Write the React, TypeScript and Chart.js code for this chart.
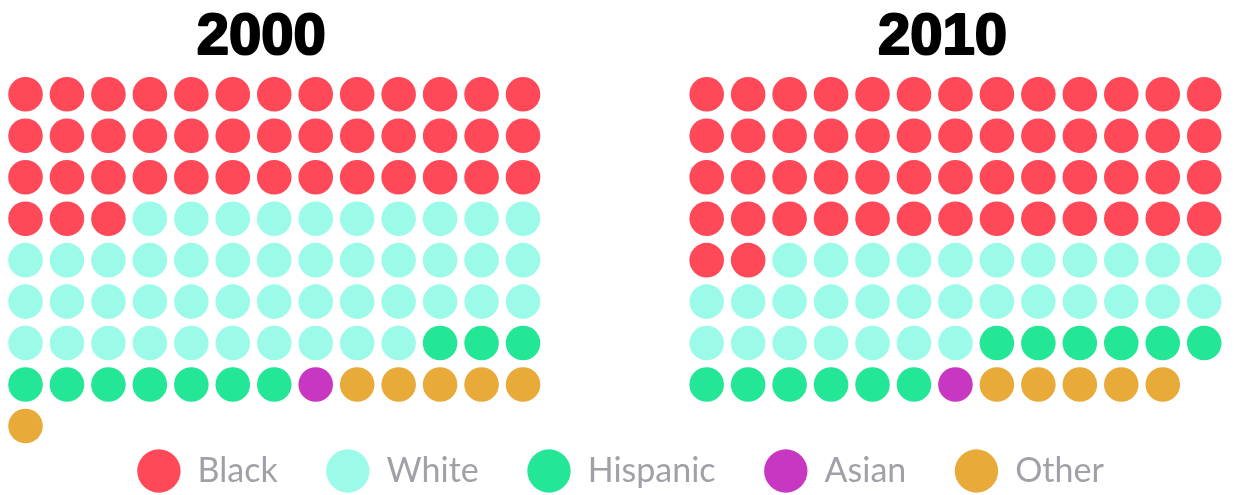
import React, { useEffect, useRef } from "react";
import { Chart, registerables } from "chart.js";

Chart.register(...registerables);

// ---- data ----
const categories = ["Black", "White", "Hispanic", "Asian", "Other"];
const colors = ["#ff4858", "#9cfbe8", "#24e697", "#c837c2", "#e8aa38"];
const years = ["2000", "2010"];
const counts2000 = [42, 46, 10, 1, 6];
const counts2010 = [54, 31, 12, 1, 5];
const countsByYear = [counts2000, counts2010];

// ---- layout constants ----
const COLUMNS = 13;
const GROUP_OFFSETS = [0, 16.43]; // column offset of each year's grid
const CANVAS_W = 1234;
const LEGEND_FONT = 34;
const LEGEND_PAD = 48.5;
const LEGEND_CENTER_Y = 471;
const LEGEND_H = LEGEND_FONT + LEGEND_PAD + 10;
const CANVAS_H = Math.round(LEGEND_CENTER_Y + 10 + LEGEND_FONT / 2);
const SPACING = 41.46; // px per cell
const PAD_LEFT = 25.5;
const PAD_RIGHT = 18.5;
const PAD_TOP = 52.85;
const X_MAX = (CANVAS_W - PAD_LEFT - PAD_RIGHT) / SPACING;
const Y_MIN = -1;
const Y_MAX = Y_MIN + (CANVAS_H - LEGEND_H - PAD_TOP) / SPACING;
const TITLE_SHIFT = -13;
const TITLE_BASELINE = 53.5;

// build waffle points: one dataset per category, covering both years
const datasetPoints = categories.map(() => [] as { x: number; y: number }[]);
countsByYear.forEach((counts, g) => {
  let k = 0;
  counts.forEach((n, ci) => {
    for (let i = 0; i < n; i++, k++) {
      datasetPoints[ci].push({
        x: GROUP_OFFSETS[g] + (k % COLUMNS),
        y: Math.floor(k / COLUMNS),
      });
    }
  });
});

const titlePlugin = {
  id: "yearTitles",
  afterLayout(chart: any) {
    // let waffle cells that extend below the legend's top edge still be drawn
    chart.chartArea.bottom = chart.height;
  },
  afterDraw(chart: any) {
    const { ctx, scales } = chart;
    const x = scales.x;
    ctx.save();
    ctx.font = 'bold 58px "Liberation Sans", Arial, sans-serif';
    ctx.fillStyle = "#000";
    ctx.strokeStyle = "#000";
    ctx.lineWidth = 2.2;
    ctx.lineJoin = "round";
    ctx.textAlign = "center";
    ctx.textBaseline = "alphabetic";
    years.forEach((yr, g) => {
      const cx = x.getPixelForValue(GROUP_OFFSETS[g] + (COLUMNS - 1) / 2) + TITLE_SHIFT;
      ctx.fillText(yr, cx, TITLE_BASELINE);
      ctx.strokeText(yr, cx, TITLE_BASELINE);
    });
    ctx.restore();
  },
};

export default function App() {
  const canvasRef = useRef<HTMLCanvasElement | null>(null);

  useEffect(() => {
    if (!canvasRef.current) return;
    const chart = new Chart(canvasRef.current, {
      type: "scatter",
      data: {
        datasets: categories.map((c, i) => ({
          label: c,
          data: datasetPoints[i],
          backgroundColor: colors[i],
          borderColor: colors[i],
          borderWidth: 0,
          pointRadius: 17.3,
          pointHoverRadius: 17.3,
          pointStyle: "circle",
          clip: false as any,
        })),
      },
      options: {
        responsive: false,
        animation: false,
        events: [],
        layout: {
          padding: { left: PAD_LEFT, right: PAD_RIGHT, top: PAD_TOP, bottom: 0 },
        },
        scales: {
          x: { type: "linear", display: false, min: 0, max: X_MAX },
          y: { type: "linear", display: false, reverse: true, min: Y_MIN, max: Y_MAX },
        },
        plugins: {
          legend: {
            position: "bottom",
            labels: {
              usePointStyle: true,
              pointStyle: "circle",
              pointStyleWidth: 43.4,
              boxHeight: 30.7,
              padding: LEGEND_PAD,
              color: "#a39fa8",
              font: {
                family: 'Lato, "Liberation Sans", sans-serif',
                size: LEGEND_FONT,
                weight: "normal",
              },
            },
          },
          tooltip: { enabled: false },
        },
      },
      plugins: [titlePlugin],
    });
    return () => chart.destroy();
  }, []);

  return (
    <div
      style={{
        position: "absolute",
        left: 0,
        top: 0,
        width: CANVAS_W,
        height: 495,
        overflow: "hidden",
        background: "#fff",
      }}
    >
      <canvas
        ref={canvasRef}
        width={CANVAS_W}
        height={CANVAS_H}
        style={{ display: "block", width: CANVAS_W, height: CANVAS_H }}
      />
    </div>
  );
}
